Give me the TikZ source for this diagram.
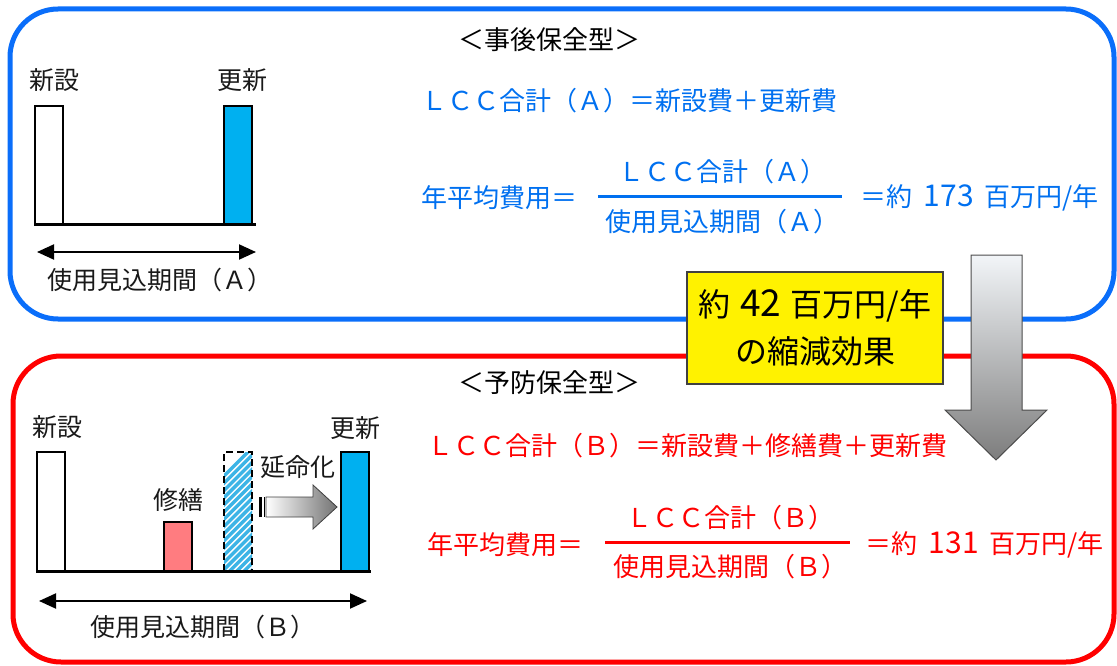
\documentclass[tikz,border=0pt]{standalone}
\usepackage{fontspec}
\setmainfont{Noto Sans CJK JP}
\usetikzlibrary{arrows.meta}
\definecolor{lccblue}{RGB}{0,112,240}
\definecolor{boxblue}{RGB}{10,110,250}
\definecolor{lccred}{RGB}{255,0,0}
\definecolor{barcyan}{RGB}{0,176,240}
\definecolor{barpink}{RGB}{255,124,128}
\definecolor{stripecol}{RGB}{60,180,230}
\definecolor{arrowtop}{RGB}{242,245,248}
\definecolor{arrowbot}{RGB}{125,125,125}
\newcommand{\bignum}[1]{{\fontsize{30}{30}\selectfont #1}}
\newcommand{\hugenum}[1]{{\fontsize{37}{37}\selectfont #1}}
\tikzset{
  frame/.style={line width=5pt, rounded corners=48pt},
  formula/.style={inner sep=0pt, font=\fontsize{26}{30}\selectfont},
  lab/.style={inner sep=0pt, font=\fontsize{25}{30}\selectfont, text=black!90},
  bar/.style={draw=black, line width=2.2pt},
  axis/.style={line width=3pt, line cap=rect},
  span/.style={line width=2pt, {Triangle[length=17pt,width=15pt]}-{Triangle[length=17pt,width=15pt]}},
  fracline/.style={line width=3pt},
}
\begin{document}
\begin{tikzpicture}[x=1pt,y=-1pt]
\useasboundingbox (0,0) rectangle (1117,666);

% frames
\draw[frame, draw=boxblue] (10,9) rectangle (1114,319);
\draw[frame, draw=lccred] (13,356) rectangle (1114,662);

% titles
\node[formula, text=black] (t1) at (549,40) {＜事後保全型＞};
\node[formula, text=black] (t2) at (549,383) {＜予防保全型＞};

% ---------- top diagram ----------
\node[lab] (newA) at (54,80) {新設};
\node[lab] (updA) at (242,80) {更新};
\draw[bar, fill=white] (35,106) rectangle (63,224);
\draw[bar, fill=barcyan] (224,106) rectangle (252,224);
\draw[axis] (35,224) -- (254,224);
\coordinate (a1) at (37,252);
\coordinate (a2) at (256,252);
\draw[span] (a1) -- (a2);
\node[lab] (perA) at (160,280) {使用見込期間（Ａ）};

% top formulas
\node[formula, text=lccblue, anchor=west] (lccA) at (421,101) {ＬＣＣ合計（Ａ）＝新設費＋更新費};
\node[formula, text=lccblue, anchor=west] (avgA) at (421,198) {年平均費用＝};
\node[formula, text=lccblue] (numA) at (722,172) {ＬＣＣ合計（Ａ）};
\node[formula, text=lccblue] (denA) at (722,222) {使用見込期間（Ａ）};
\draw[fracline, lccblue] (598,197) -- (842,197);
\node[formula, text=lccblue, anchor=west] (resA) at (860,198) {＝約\hspace{0.45em}\bignum{173}\hspace{0.4em}百万円/年};

% ---------- bottom diagram ----------
\node[lab] (newB) at (57,427) {新設};
\node[lab] (updB) at (355,428) {更新};
\node[lab] (repB) at (178,500) {修繕};
\node[lab] (extB) at (298,467) {延命化};
\draw[bar, fill=white] (37,452) rectangle (65,571);
\draw[bar, fill=barpink] (164,522) rectangle (192,571);
% hatched (postponed) bar
\begin{scope}
  \clip (224,452) rectangle (252,571);
  \fill[white] (224,452) rectangle (252,571);
  \foreach \k in {0,...,24} {
    \draw[stripecol, line width=3.4pt] (120+\k*7.2,580) -- ++(140,-140);
  }
\end{scope}
\draw[line width=2pt, dash pattern=on 7pt off 4pt] (224,571) -- (224,452) -- (252,452) -- (252,571);
\draw[bar, fill=barcyan] (341,452) rectangle (369,571);
\draw[axis] (37,571) -- (369,571);
% small gradient arrow
\fill[black] (259,497) rectangle (261.5,517);
\fill[black] (263.5,497) rectangle (265,517);
\draw[draw=black!75, line width=0.8pt, left color=white, right color=black!55]
  (266,497) -- (313,497) -- (313,485) -- (337,507) -- (313,529) -- (313,517) -- (266,517) -- cycle;
\coordinate (b1) at (39,601);
\coordinate (b2) at (367,601);
\draw[span] (b1) -- (b2);
\node[lab] (perB) at (203,627) {使用見込期間（Ｂ）};

% bottom formulas
\node[formula, text=lccred, anchor=west] (lccB) at (427,446) {ＬＣＣ合計（Ｂ）＝新設費＋修繕費＋更新費};
\node[formula, text=lccred, anchor=west] (avgB) at (427,545) {年平均費用＝};
\node[formula, text=lccred] (numB) at (730,518) {ＬＣＣ合計（Ｂ）};
\node[formula, text=lccred] (denB) at (730,567) {使用見込期間（Ｂ）};
\draw[fracline, lccred] (605,542) -- (850,542);
\node[formula, text=lccred, anchor=west] (resB) at (865,545) {＝約\hspace{0.45em}\bignum{131}\hspace{0.4em}百万円/年};

% big down arrow
\draw[draw=black!70, line width=1pt, top color=arrowtop, bottom color=arrowbot]
  (971,255) -- (1022,255) -- (1022,410) -- (1047,410) -- (996,460) -- (945,410) -- (971,410) -- cycle;

% saving box
\node[draw=black!75, line width=1.3pt, fill=yellow, minimum width=256pt, minimum height=112pt,
      align=center, inner sep=0pt, font=\fontsize{32}{47}\selectfont] (save) at (815,328)
      {約\hspace{0.3em}\hugenum{42}\hspace{0.3em}百万円/年\\の縮減効果};
\end{tikzpicture}
\end{document}
